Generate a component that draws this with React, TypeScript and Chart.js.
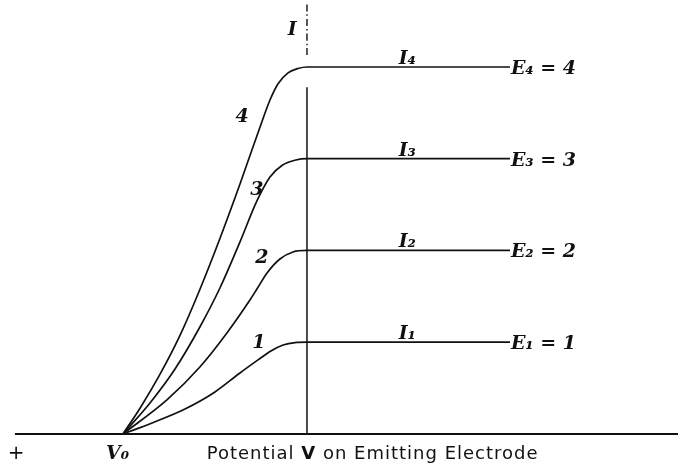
import React, { useEffect, useRef } from "react";
import { Chart, registerables } from "chart.js";

Chart.register(...registerables);

// Potential (V0 = 0, saturation onset = 1) and photo-current for each light intensity E
const curve1V = [0, 0.158, 0.337, 0.5, 0.636, 0.734, 0.804, 0.87, 0.935, 1, 2.103];
const curve1I = [0, 0.12, 0.272, 0.458, 0.665, 0.807, 0.905, 0.97, 0.996, 1, 1];
const curve2V = [0, 0.239, 0.418, 0.565, 0.69, 0.728, 0.783, 0.853, 0.924, 1, 2.103];
const curve2I = [0, 0.371, 0.73, 1.101, 1.46, 1.58, 1.755, 1.907, 1.984, 2, 2];
const curve3V = [0, 0.147, 0.283, 0.418, 0.527, 0.636, 0.728, 0.799, 0.864, 0.94, 1, 2.103];
const curve3I = [0, 0.338, 0.708, 1.166, 1.591, 2.093, 2.54, 2.801, 2.926, 2.986, 3, 3];
const curve4V = [0, 0.092, 0.201, 0.31, 0.418, 0.527, 0.636, 0.745, 0.799, 0.842, 0.897, 0.951, 1, 2.103];
const curve4I = [0, 0.278, 0.649, 1.074, 1.575, 2.131, 2.725, 3.346, 3.64, 3.815, 3.935, 3.984, 4, 4];

const curveNames = ["1", "2", "3", "4"];
const saturationLabels = ["I₁", "I₂", "I₃", "I₄"];
const intensityLabels = ["E₁ = 1", "E₂ = 2", "E₃ = 3", "E₄ = 4"];
const saturationCurrents = [1, 2, 3, 4];

const axisV = [-0.587, 3.02];
const saturationLineTop = 3.78;
const dashTop = [4.13, 4.69];

const toPoints = (xs: number[], ys: number[]) => xs.map((x, i) => ({ x, y: ys[i] }));

const labelPlugin = {
  id: "labels",
  afterDatasetsDraw(chart: any) {
    const { ctx } = chart;
    const xs = chart.scales.x;
    const ys = chart.scales.y;
    const px = (v: number) => xs.getPixelForValue(v);
    const py = (v: number) => ys.getPixelForValue(v);
    ctx.save();
    ctx.fillStyle = "#111";
    const serif = "italic bold 19px 'DejaVu Serif'";
    ctx.font = serif;
    const numPos = [
      [0.739, 0.99],
      [0.755, 1.918],
      [0.728, 2.66],
      [0.647, 3.455],
    ];
    ctx.textAlign = "center";
    ctx.textBaseline = "middle";
    curveNames.forEach((t, i) => ctx.fillText(t, px(numPos[i][0]), py(numPos[i][1])));
    ctx.textBaseline = "alphabetic";
    saturationLabels.forEach((t, i) => ctx.fillText(t, px(1.545), py(saturationCurrents[i]) - 3));
    ctx.textAlign = "left";
    ctx.textBaseline = "middle";
    intensityLabels.forEach((t, i) => ctx.fillText(t, px(2.108), py(saturationCurrents[i]) + 2));
    ctx.textAlign = "center";
    ctx.fillText("I", px(0.92), py(4.4));
    ctx.font = "20px 'DejaVu Sans'";
    ctx.fillText("+", px(-0.58), py(-0.215));
    ctx.font = serif;
    ctx.fillText("V₀", px(-0.03), py(-0.22));
    ctx.textAlign = "left";
    (ctx as any).letterSpacing = "1px";
    const a = "Potential ";
    const b = "V";
    const c = " on Emitting Electrode";
    let x0 = px(0.455);
    const y0 = py(-0.225);
    ctx.font = "18px 'DejaVu Sans'";
    ctx.fillText(a, x0, y0);
    x0 += ctx.measureText(a).width;
    ctx.font = "bold 18px 'DejaVu Sans'";
    ctx.fillText(b, x0, y0);
    x0 += ctx.measureText(b).width;
    ctx.font = "18px 'DejaVu Sans'";
    ctx.fillText(c, x0, y0);
    ctx.restore();
  },
};

export default function App() {
  const ref = useRef<HTMLCanvasElement>(null);
  useEffect(() => {
    if (!ref.current) return;
    const line = (data: any[], width: number, dash: number[] = []) => ({
      data,
      borderColor: "#111",
      borderWidth: width,
      borderDash: dash,
      pointRadius: 0,
      fill: false,
      cubicInterpolationMode: "monotone" as const,
    });
    const chart = new Chart(ref.current, {
      type: "line",
      data: {
        datasets: [
          line(toPoints(axisV, [0, 0]), 2),
          line(toPoints([1, 1], [0, saturationLineTop]), 1.5),
          line(toPoints([1, 1], dashTop), 1.4, [7, 3, 1.5, 3]),
          line(toPoints(curve1V, curve1I), 1.7),
          line(toPoints(curve2V, curve2I), 1.7),
          line(toPoints(curve3V, curve3I), 1.7),
          line(toPoints(curve4V, curve4I), 1.7),
        ],
      },
      options: {
        animation: false,
        responsive: true,
        maintainAspectRatio: false,
        layout: { padding: 0 },
        plugins: { legend: { display: false }, tooltip: { enabled: false } },
        scales: {
          x: { type: "linear", min: -0.668, max: 3.016, display: false },
          y: { type: "linear", min: -0.371, max: 4.73, display: false },
        },
      },
      plugins: [labelPlugin],
    });
    return () => chart.destroy();
  }, []);
  return (
    <div style={{ position: "absolute", left: 0, top: 0, width: 678, height: 468, background: "#fff" }}>
      <canvas ref={ref} />
    </div>
  );
}
